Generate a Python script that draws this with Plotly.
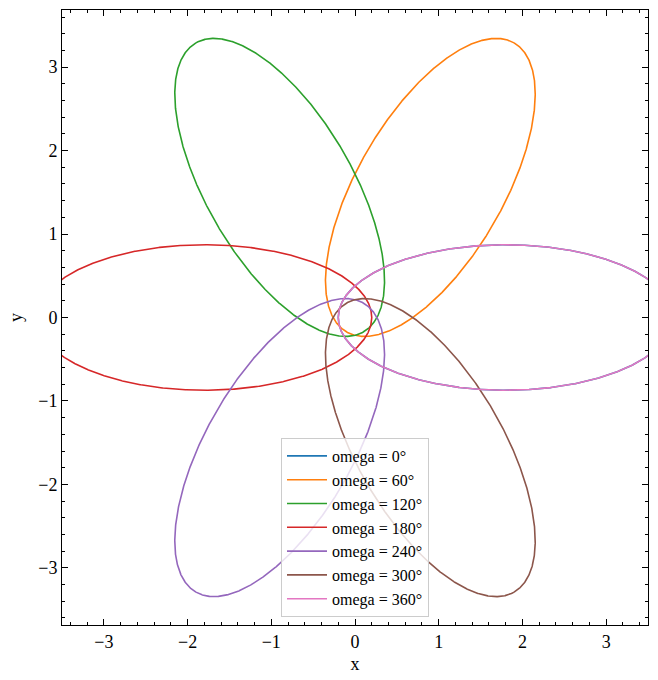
import numpy as np
import plotly.graph_objects as go

# Orbit parameters
semi_major = 2.0
eccentricity = 0.9
omegas_deg = [0, 60, 120, 180, 240, 300, 360]
labels = ["omega = 0°", "omega = 60°", "omega = 120°", "omega = 180°",
          "omega = 240°", "omega = 300°", "omega = 360°"]
colors = ["#1f77b4", "#ff7f0e", "#2ca02c", "#d62728", "#9467bd", "#8c564b", "#e377c2"]

x_ticks = [-3, -2, -1, 0, 1, 2, 3]
y_ticks = [-3, -2, -1, 0, 1, 2, 3]

# orbit with focus at origin, parametrised by eccentric anomaly
E = np.linspace(0, 2 * np.pi, 1441)
b = semi_major * np.sqrt(1 - eccentricity**2)
x0 = semi_major * (np.cos(E) + eccentricity)
y0 = b * np.sin(E)

fig = go.Figure()
for om, lab, col in zip(omegas_deg, labels, colors):
    w = np.deg2rad(om)
    xs = x0 * np.cos(w) - y0 * np.sin(w)
    ys = x0 * np.sin(w) + y0 * np.cos(w)
    fig.add_trace(go.Scatter(x=xs, y=ys, mode="lines", name=lab,
                             line=dict(color=col, width=1.6)))

font_family = "Liberation Serif, DejaVu Serif, serif"
axis_common = dict(
    showline=True, linecolor="black", linewidth=1, mirror="allticks",
    ticks="inside", ticklen=6, tickwidth=1, tickcolor="black",
    showgrid=False, zeroline=False,
    minor=dict(ticks="inside", ticklen=3, tickwidth=1, tickcolor="black", dtick=0.2, showgrid=False),
    tickfont=dict(family=font_family, size=18, color="black"),
)

fig.update_xaxes(range=[-3.5, 3.5], tickvals=x_ticks,
                 title=dict(text="x", font=dict(family=font_family, size=18, color="black"), standoff=6),
                 **axis_common)
fig.update_yaxes(range=[-3.685, 3.685], tickvals=y_ticks,
                 title=dict(text="y", font=dict(family=font_family, size=18, color="black"), standoff=10),
                 **axis_common)

fig.update_layout(
    width=658, height=680,
    margin=dict(l=62, r=10, t=10, b=55),
    paper_bgcolor="white", plot_bgcolor="white",
    font=dict(family=font_family, color="black"),
    legend=dict(x=0.5, y=0.013, xanchor="center", yanchor="bottom",
                bgcolor="rgba(255,255,255,0.8)", bordercolor="#cccccc", borderwidth=1,
                font=dict(family=font_family, size=16, color="black"),
                itemwidth=40, tracegroupgap=0),
    showlegend=True,
)

fig.write_html("out.html")
